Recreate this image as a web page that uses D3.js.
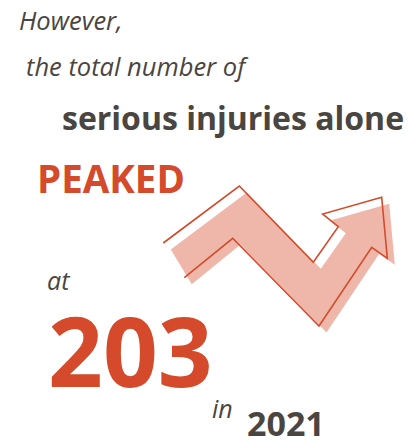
<!DOCTYPE html>
<html><head><meta charset="utf-8">
<script src="https://cdn.jsdelivr.net/npm/d3@7"></script>
<style>html,body{margin:0;padding:0;background:#fff;}svg{display:block;}</style>
</head><body>
<script>
// Data
const introLines = ["However,", "the total number of"];
const subject = ["serious injuries alone"];
const verb = ["PEAKED"];
const prepositions = ["at", "in"];
const peakValue = [203];
const peakYear = [2021];
// Arrow shape (abstract units) - decorative zig-zag trend
const arrowX = [0, 76, 150, 175, 159.4, 218.4, 224, 208.4, 155.7, 69.4, 21];
const arrowY = [57, 0, 76.3, 40.7, 28, 11.3, 72.3, 61.3, 140, 52.3, 91.7];

const W = 419, H = 440;
const svg = d3.select("body").append("svg").attr("width", W).attr("height", H);
const dark = "#4a4541", red = "#d44a2a", pink = "#efb7a9";
const font = "'Open Sans', 'Noto Sans', sans-serif";

const sx = d3.scaleLinear().domain([0, 224]).range([163.3, 387.3]);
const sy = d3.scaleLinear().domain([0, 140]).range([186, 326]);
const pts = arrowX.map((x, i) => [sx(x), sy(arrowY[i])]);

svg.append("polygon")
  .attr("points", pts.map(p => [p[0] + 7.5, p[1] + 6.5].join(",")).join(" "))
  .attr("fill", pink);
svg.append("path")
  .attr("d", d3.line()(pts))
  .attr("fill", "none").attr("stroke", red).attr("stroke-width", 1.6)
  .attr("stroke-linejoin", "miter");

function txt(s, x, y, size, weight, style, color) {
  return svg.append("text").attr("x", x).attr("y", y).text(s)
    .attr("font-family", font).attr("font-size", size)
    .attr("font-weight", weight).attr("font-style", style).attr("fill", color);
}
txt(introLines[0], 19, 30, 25.5, 400, "italic", dark);
txt(introLines[1], 26, 76, 25.5, 400, "italic", dark);
txt(subject[0], 62, 130, 32, 700, "normal", dark);
txt(verb[0], 37, 193, 38.5, 700, "normal", red);
txt(prepositions[0], 47, 290, 25, 400, "italic", dark);
txt(String(peakValue[0]), 48, 387, 96, 700, "normal", red);
txt(prepositions[1], 212, 418, 25, 400, "italic", dark);
txt(String(peakYear[0]), 247, 436, 34, 700, "normal", dark);
</script>
</body></html>
